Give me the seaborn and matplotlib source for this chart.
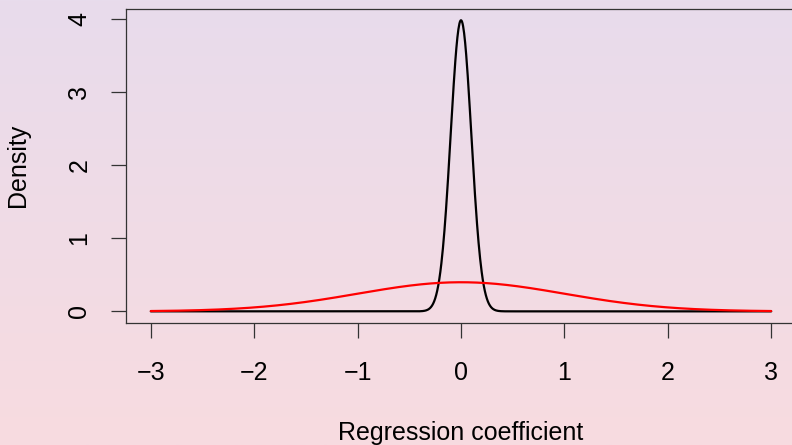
import numpy as np
import pandas as pd
import matplotlib
matplotlib.use("Agg")
import matplotlib.pyplot as plt
import seaborn as sns
from matplotlib.colors import LinearSegmentedColormap

# Data: two normal prior densities shown in the chart
series_names = ["sd 0.1", "sd 1"]
series_means = [0.0, 0.0]
series_sds = [0.1, 1.0]
series_colors = ["black", "red"]
x_ticks = [-3, -2, -1, 0, 1, 2, 3]
y_ticks = [0, 1, 2, 3, 4]
x_range = [-3, 3]

xs = np.linspace(x_range[0], x_range[1], 1201)
frames = []
for name, mu, sd in zip(series_names, series_means, series_sds):
    dens = np.exp(-0.5 * ((xs - mu) / sd) ** 2) / (sd * np.sqrt(2 * np.pi))
    frames.append(pd.DataFrame({"x": xs, "density": dens, "series": name}))
df = pd.concat(frames, ignore_index=True)

sns.set_style("white")
plt.rcParams["font.family"] = ["Liberation Sans", "DejaVu Sans"]
plt.rcParams["text.color"] = "black"
plt.rcParams["axes.labelcolor"] = "black"
plt.rcParams["xtick.color"] = "black"
plt.rcParams["ytick.color"] = "black"

fig = plt.figure(figsize=(7.92, 4.45), dpi=100)

# gradient background
bg = fig.add_axes([0, 0, 1, 1], zorder=-10)
cmap = LinearSegmentedColormap.from_list("bg", ["#E8DCEC", "#F8DBE0"])
bg.imshow(np.linspace(0, 1, 256).reshape(-1, 1), aspect="auto", cmap=cmap,
          extent=[0, 1, 0, 1], origin="upper")
bg.set_axis_off()

ax = fig.add_axes([126 / 792, 1 - 323 / 445, (796 - 126) / 792, (323 - 8.6) / 445])
ax.patch.set_alpha(0)
sns.lineplot(data=df, x="x", y="density", hue="series", palette=series_colors,
             hue_order=series_names, linewidth=1.6, legend=False, ax=ax)

ymax = df["density"].max()
ax.set_xlim(-3.24, 3.24)
ax.set_ylim(-0.04 * ymax, ymax * 1.04)
ax.set_xticks(x_ticks)
ax.set_xticklabels([str(t).replace("-", "\u2212") for t in x_ticks])
ax.set_yticks(y_ticks)
ax.set_yticklabels([str(t) for t in y_ticks], rotation=90, va="center")
for s in ax.spines.values():
    s.set_visible(True)
    s.set_color("#333333")
    s.set_linewidth(0.9)
ax.tick_params(axis="both", length=11, width=0.9, color="#333333",
               labelsize=18, direction="out", bottom=True, left=True,
               labelcolor="black")
ax.tick_params(axis="x", pad=16)
ax.tick_params(axis="y", pad=14)
ax.set_xlabel("Regression coefficient", fontsize=18, labelpad=26)
ax.set_ylabel("Density", fontsize=18, labelpad=27)

fig.savefig("out.png", dpi=100)
